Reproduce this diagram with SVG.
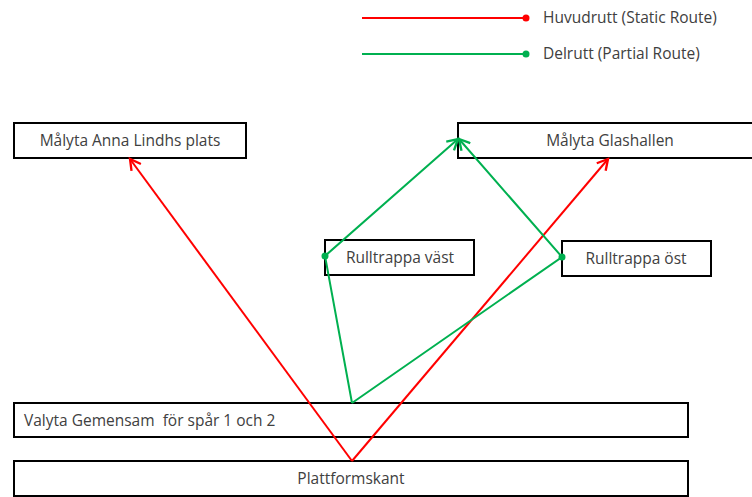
<svg xmlns="http://www.w3.org/2000/svg" width="752" height="497" viewBox="0 0 752 497">
<style>
.box{fill:#fff;stroke:#000;stroke-width:2}
.t{font-family:"Open Sans","Liberation Sans",sans-serif;font-size:15.5px;fill:#404040;white-space:pre}
.c{text-anchor:middle}
.red{stroke:#ff0000;stroke-width:2;fill:none}
.grn{stroke:#00b050;stroke-width:2;fill:none}
</style>
<defs>
<marker id="ar" markerWidth="14" markerHeight="14" refX="10" refY="6" orient="auto" markerUnits="userSpaceOnUse" viewBox="0 0 12 12">
<path d="M1,1 L10,6 L1,11" fill="none" stroke="#ff0000" stroke-width="2"/>
</marker>
<marker id="ag" markerWidth="14" markerHeight="14" refX="10" refY="6" orient="auto" markerUnits="userSpaceOnUse" viewBox="0 0 12 12">
<path d="M1,1 L10,6 L1,11" fill="none" stroke="#00b050" stroke-width="2"/>
</marker>
</defs>
<g id="legend">
<line class="red" x1="362" y1="18" x2="526" y2="18"/>
<circle cx="526" cy="18" r="3.5" fill="#ff0000"/>
<text class="t" x="543" y="23">Huvudrutt (Static Route)</text>
<line class="grn" x1="362" y1="54" x2="526" y2="54"/>
<circle cx="526" cy="54" r="3.5" fill="#00b050"/>
<text class="t" x="543" y="59">Delrutt (Partial Route)</text>
</g>
<g id="anna">
<rect class="box" x="14" y="123" width="232" height="35"/>
<text class="t c" x="130" y="146">Målyta Anna Lindhs plats</text>
</g>
<g id="glashallen">
<rect class="box" x="458" y="123" width="304" height="35"/>
<text class="t c" x="610" y="146">Målyta Glashallen</text>
</g>
<g id="vast">
<rect class="box" x="325" y="240" width="149" height="35"/>
<text class="t c" x="400" y="263">Rulltrappa väst</text>
</g>
<g id="ost">
<rect class="box" x="562" y="241" width="149" height="35"/>
<text class="t c" x="636" y="264">Rulltrappa öst</text>
</g>
<g id="valyta">
<rect class="box" x="14" y="403" width="674" height="34"/>
<text class="t" x="24" y="426">Valyta Gemensam  för spår 1 och 2</text>
</g>
<g id="plattform">
<rect class="box" x="14" y="461" width="674" height="35"/>
<text class="t c" x="351" y="484">Plattformskant</text>
</g>
<g id="connectors">
<line class="red" x1="352" y1="461" x2="130" y2="159" marker-end="url(#ar)"/>
<line class="red" x1="352" y1="461" x2="608" y2="159" marker-end="url(#ar)"/>
<polyline class="grn" points="352,403 325,256 458,139" marker-end="url(#ag)"/>
<polyline class="grn" points="352,403 562,257 459,139" marker-end="url(#ag)"/>
<circle cx="325" cy="256" r="3.5" fill="#00b050"/>
<circle cx="562" cy="257" r="3.5" fill="#00b050"/>
</g>
</svg>
